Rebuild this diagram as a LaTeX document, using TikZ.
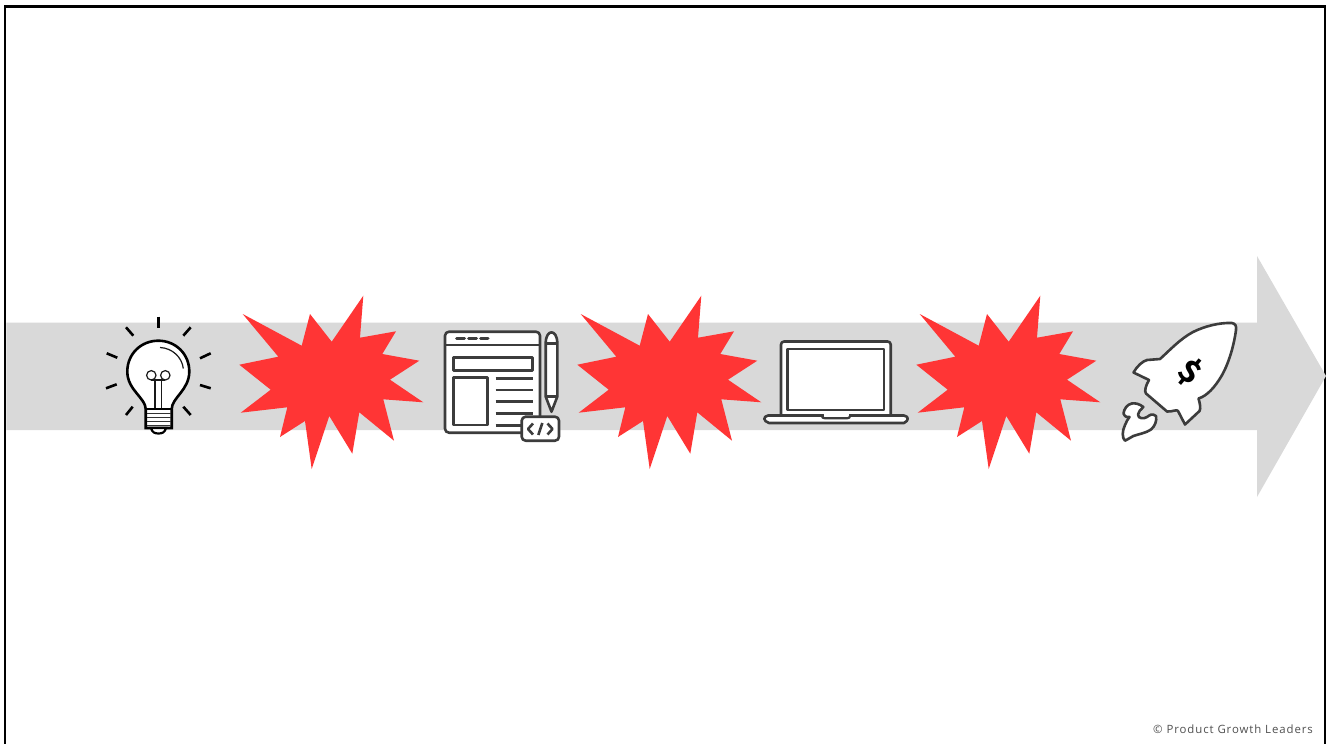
\documentclass[tikz,border=0pt]{standalone}
\usepackage{fontspec}
\setmainfont{Open Sans}
\newfontfamily\creditfont[LetterSpace=8]{Open Sans}
\newfontfamily\dollarfont{Fira Sans}
\definecolor{band}{HTML}{D9D9D9}
\definecolor{burst}{HTML}{FF3535}
\definecolor{ink}{HTML}{3C3C3C}
\tikzset{
  iconline/.style={draw=ink,line width=2.6pt,line join=round},
  iconfill/.style={iconline,fill=white},
  bulbline/.style={draw=black,line width=2.6pt},
  thinline/.style={draw=black!90,line width=1.2pt},
  burstpic/.pic={
    \fill[burst] (242.7,314)--(301.7,345.7)--(310,314)--(331.7,341.7)--(363.3,295.7)--(360,337.7)--(396,331.3)--(382.3,354)--(419.3,360.7)--(390,379.7)--(423.3,402.3)--(383.3,399.3)--(394,440.7)--(359.3,412.3)--(352.3,453.7)--(329.3,416)--(311.7,469)--(305,421)--(280,437)--(287.3,407.3)--(240.7,412.7)--(270.7,389.7)--(239.3,364.7)--(278.3,356.7)--cycle;
  }
}
\begin{document}
\begin{tikzpicture}[x=1pt,y=-1pt]
\useasboundingbox (0,0) rectangle (1328,744);
\fill[white] (0,0) rectangle (1328,744);
% frame
\draw[black,line width=2.8pt] (5,744)--(5,6.5)--(1325,6.5)--(1325,744);
% arrow
\fill[band] (6.4,322.5)--(1257,322.5)--(1257,256)--(1326,376)--(1257,497)--(1257,430)--(6.4,430)--cycle;
% bursts
\pic at (0,0) {burstpic};
\pic at (338,0) {burstpic};
\pic at (677,0) {burstpic};
% bulb
\foreach \a/\b/\c/\d in {158.3/316.7/158.3/328.3,126/327.3/133.3/335.7,190.7/327.3/183.3/335.7,106.7/353.3/117.3/357.7,210.7/353.3/200/358.3,106/388.3/116.7/384.3,210.7/388.3/200/385,132.7/406.7/126/415,183.3/406.7/190.7/415}
  \draw[bulbline] (\a,\b)--(\c,\d);
\draw[draw=black,line width=2.6pt,fill=white] (145.7,409) .. controls (145.7,398) and (127.3,390) .. (127.3,371.5) .. controls (127.3,354) and (141,340.7) .. (158.3,340.7) .. controls (175.6,340.7) and (189.3,354) .. (189.3,371.5) .. controls (189.3,390) and (171.7,398) .. (171.7,409) -- (171.7,428) -- (145.7,428) -- cycle;
\draw[thinline] (160,347.5) .. controls (172,348) and (182,357) .. (183.3,368.5);
\draw[thinline] (155,409)--(155,379.8) (161.7,409)--(161.7,379.8);
\draw[thinline] (151.3,375.3) circle[radius=4.7];
\draw[thinline] (165.3,375.3) circle[radius=4.7];
\draw[thinline] (151.3,380)--(165.3,380);
\draw[draw=black,line width=1.8pt] (145.7,409)--(171.7,409);
\draw[draw=black!80,line width=0.9pt] (147,413.5)--(170.5,413.5) (147,417.5)--(170.5,417.5) (147,421.5)--(170.5,421.5) (147,425)--(170.5,425);
\draw[draw=black,line width=2.2pt,fill=white] (151,428) .. controls (152,432.5) and (155,433.5) .. (158.5,433.5) .. controls (162,433.5) and (165,432.5) .. (166,428) -- cycle;
% web page icon
\draw[iconfill,rounded corners=4pt] (445,331.7) rectangle (540,432.7);
\draw[iconline] (445,345)--(540,345);
\draw[iconline,line width=3pt,line cap=round] (456.5,338.3)--(464.5,338.3) (468.5,338.3)--(476.5,338.3) (480.5,338.3)--(488,338.3);
\draw[iconline] (453.3,357.3) rectangle (532.7,370.7);
\draw[iconline] (453.3,377.3) rectangle (487.3,425);
\draw[iconline] (495.7,378.3)--(532.7,378.3) (495.7,390)--(532.7,390) (495.7,401.7)--(532.7,401.7) (495.7,413.3)--(532.7,413.3) (495.7,425.3)--(525,425.3);
\draw[iconfill,rounded corners=4pt] (521.7,416.7) rectangle (559,440.7);
\draw[iconline] (533,423.5)--(528,429)--(533,434.5) (547.5,423.5)--(552.5,429)--(547.5,434.5) (542.3,423)--(538.3,435);
\draw[iconfill] (545.7,343.3) .. controls (545.7,328.7) and (557.3,328.7) .. (557.3,343.3) -- (557.3,396.7) -- (551.5,411.7) -- (545.7,396.7) -- cycle;
\draw[iconline] (545.7,343.3)--(557.3,343.3) (545.7,396.7)--(557.3,396.7);
% laptop
\draw[iconfill,rounded corners=3pt] (781,415.5)--(781,341.5)--(890.7,341.5)--(890.7,415.5);
\draw[iconfill] (787.3,349) rectangle (884,410);
\draw[iconfill] (768,415.5) -- (904,415.5) .. controls (909,416.5) and (909,420.5) .. (904,423) -- (769,423) .. controls (763,421) and (763,416.5) .. (768,415.5) -- cycle;
\draw[white,line width=3pt] (823.5,415.5)--(848.5,415.5);
\draw[iconline,line width=2.2pt] (821.7,415.5) .. controls (822,417.5) and (823,418.3) .. (825,418.3) -- (847,418.3) .. controls (849,418.3) and (850,417.5) .. (850.3,415.5);
% rocket
\draw[iconfill] (1231.7,323) .. controls (1235.5,323.5) and (1236.5,326) .. (1236,330) .. controls (1234,345) and (1229,363) .. (1221.5,376) .. controls (1215,387) and (1207,396) .. (1198.5,398.5) .. controls (1200,404) and (1201,408) .. (1199.5,411) -- (1185,424.5) -- (1178,411) .. controls (1177,409) and (1172,412) .. (1167,411.5) -- (1146,393.5) .. controls (1144,391) and (1146,385) .. (1149,380) -- (1133.5,372.5) .. controls (1137,366) and (1143,361) .. (1147,360) -- (1160,359) .. controls (1170,350) and (1180,339) .. (1193,332) .. controls (1205,326) and (1220,322.5) .. (1231.7,323) -- cycle;
\draw[iconfill] (1123.5,413.5) .. controls (1124,409) and (1127,404.5) .. (1131.7,403.5) .. controls (1135,403) and (1139,403.5) .. (1143.3,407) .. controls (1141,410) and (1138,411) .. (1138,414.5) .. controls (1138,419) and (1144,419) .. (1147,417) .. controls (1150,415) and (1152,413) .. (1156,416) .. controls (1157,421) and (1155,426) .. (1151,429.5) .. controls (1146,433) and (1139,434) .. (1133.3,436) .. controls (1130,437.5) and (1128,439.5) .. (1125,440.7) .. controls (1122,438) and (1122,431) .. (1125,425) .. controls (1126,422) and (1128,419) .. (1129.5,417) .. controls (1127,417.5) and (1125,417) .. (1123.5,413.5) -- cycle;
\node[text=black,rotate=-40,inner sep=0pt,font=\dollarfont\bfseries\fontsize{32}{32}\selectfont] (dollar) at (1190,372) {\$};
% credit
\node[anchor=east,inner sep=0pt,text=ink!90!white,font=\creditfont\fontsize{11.4}{13}\selectfont] (credit) at (1313,729) {© Product Growth Leaders};
\end{tikzpicture}
\end{document}
